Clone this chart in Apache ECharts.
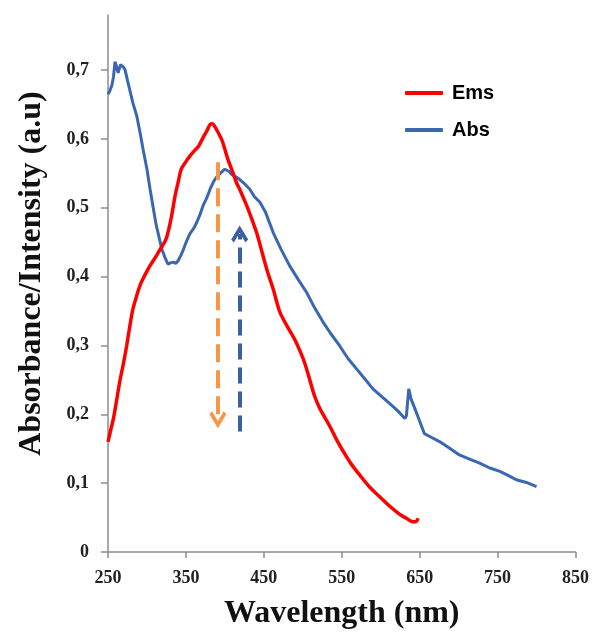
<!DOCTYPE html>
<html>
<head>
<meta charset="utf-8">
<script src="https://cdn.jsdelivr.net/npm/echarts@6/dist/echarts.min.js"></script>
<style>html,body{margin:0;padding:0;background:#fff;}#chart{width:592px;height:635px;}</style>
</head>
<body>
<div id="chart"></div>
<script>
// Absorbance (Abs) spectrum: wavelength (nm), value (a.u.)
const absWl = [250,252,255,257,259,261,263,266,268,270,272,275,278,282,287,291,295,300,304,308,312,316,319,323,327,330,334,337,340,344,347,351,355,360,364,368,372,377,381,385,389,395,400,405,409,414,419,425,432,438,445,452,462,472,483,494,505,515,526,536,547,558,569,580,590,601,612,622,631,633,636,639,645,650,656,666,676,688,701,714,727,740,753,764,774,787,800];
const absVal = [0.665,0.669,0.678,0.690,0.712,0.705,0.696,0.708,0.710,0.704,0.700,0.685,0.671,0.652,0.633,0.610,0.585,0.556,0.527,0.500,0.474,0.455,0.440,0.428,0.418,0.420,0.421,0.419,0.423,0.432,0.440,0.452,0.462,0.470,0.479,0.490,0.503,0.515,0.527,0.537,0.544,0.551,0.556,0.553,0.548,0.545,0.541,0.535,0.527,0.516,0.508,0.494,0.464,0.440,0.416,0.396,0.377,0.355,0.334,0.317,0.300,0.281,0.266,0.251,0.237,0.226,0.215,0.205,0.194,0.198,0.237,0.222,0.205,0.190,0.172,0.166,0.160,0.151,0.141,0.135,0.129,0.122,0.117,0.111,0.105,0.101,0.095];
// Emission (Ems) spectrum
const emsWl = [250,253,257,261,265,270,274,278,282,287,291,295,300,304,308,313,317,321,325,330,333,336,340,344,350,355,361,366,372,377,381,384,387,391,396,400,404,410,415,419,428,436,441,449,455,462,470,476,483,490,496,502,509,515,522,528,535,543,552,562,573,586,599,612,624,633,641,645,648];
const emsVal = [0.160,0.175,0.194,0.220,0.247,0.275,0.300,0.328,0.353,0.373,0.387,0.397,0.408,0.416,0.423,0.432,0.440,0.447,0.456,0.479,0.497,0.517,0.537,0.556,0.567,0.575,0.583,0.589,0.602,0.612,0.621,0.622,0.618,0.610,0.599,0.585,0.570,0.552,0.536,0.527,0.503,0.479,0.463,0.430,0.406,0.382,0.350,0.336,0.322,0.308,0.293,0.276,0.250,0.227,0.208,0.196,0.182,0.164,0.146,0.128,0.112,0.094,0.080,0.066,0.055,0.049,0.044,0.044,0.049];
// Dashed arrows: [wavelength, start value, end value]
const arrowDown = [391, 0.566, 0.192];
const arrowUp = [419, 0.175, 0.462];
// Tick labels
const xTicks = [250,350,450,550,650,750,850];
const yTicks = [0,0.1,0.2,0.3,0.4,0.5,0.6,0.7];
const seriesNames = ['Ems','Abs'];

const pair = (xs, ys) => xs.map((x, i) => [x, ys[i]]);
const chevron = 'path://M5,0 L10,7 L8.4,8.4 L5,3.6 L1.6,8.4 L0,7 Z';
const serif = '"Liberation Serif", "DejaVu Serif", serif';

const chart = echarts.init(document.getElementById('chart'), null, {renderer: 'canvas'});
chart.setOption({
  animation: false,
  backgroundColor: '#ffffff',
  grid: {left: 108, right: 16, top: 15, bottom: 81},
  legend: {
    orient: 'vertical', left: 405, top: 83, padding: 0,
    icon: 'roundRect', itemWidth: 38, itemHeight: 4, itemGap: 17,
    data: seriesNames,
    textStyle: {fontFamily: '"Liberation Sans", Arial, sans-serif', fontWeight: 'bold', fontSize: 20, color: '#000', lineHeight: 20, padding: [0, 0, 0, 4]}
  },
  xAxis: {
    type: 'value', min: 250, max: 850, interval: 50,
    name: 'Wavelength (nm)', nameLocation: 'middle', nameGap: 46,
    nameTextStyle: {fontFamily: serif, fontWeight: 'bold', fontSize: 32, color: '#111'},
    axisLine: {show: true, lineStyle: {color: '#8c8c8c', width: 1.5}},
    axisTick: {show: true, length: 6, customValues: xTicks, lineStyle: {color: '#8c8c8c', width: 1.5}},
    axisLabel: {customValues: xTicks, margin: 17, fontFamily: serif, fontWeight: 'bold', fontSize: 18, color: '#222'},
    splitLine: {show: false}
  },
  yAxis: {
    type: 'value', min: 0, max: 0.78, interval: 0.1,
    name: 'Absorbance/Intensity (a.u)', nameLocation: 'middle', nameGap: 60, nameRotate: 90,
    nameTextStyle: {fontFamily: serif, fontWeight: 'bold', fontSize: 32, color: '#111', padding: [0, 0, 0, 20]},
    axisLine: {show: true, lineStyle: {color: '#8c8c8c', width: 1.5}},
    axisTick: {show: true, length: 7, customValues: yTicks, lineStyle: {color: '#8c8c8c', width: 1.5}},
    axisLabel: {customValues: yTicks, margin: 19, fontFamily: serif, fontWeight: 'bold', fontSize: 18, color: '#222',
      formatter: v => v === 0 ? '0' : v.toFixed(1).replace('.', ',')},
    splitLine: {show: false}
  },
  series: [
    {
      name: 'Ems', type: 'line', data: pair(emsWl, emsVal), smooth: 0.35, symbol: 'none', showSymbol: false,
      itemStyle: {color: '#ff0000'}, lineStyle: {color: '#ff0000', width: 3.5}, z: 3,
      markLine: {
        silent: true, symbol: ['none', chevron], symbolSize: 17, label: {show: false},
        lineStyle: {color: '#f79646', type: [18, 8], width: 4},
        data: [[{coord: [arrowDown[0], arrowDown[1]]}, {coord: [arrowDown[0], arrowDown[2]]}]]
      }
    },
    {
      name: 'Abs', type: 'line', data: pair(absWl, absVal), smooth: false, symbol: 'none', showSymbol: false,
      itemStyle: {color: '#3a67b0'}, lineStyle: {color: '#3a67b0', width: 3}, z: 2,
      markLine: {
        silent: true, symbol: ['none', chevron], symbolSize: 17, label: {show: false},
        lineStyle: {color: '#3b5fa3', type: [16, 8], width: 4},
        data: [[{coord: [arrowUp[0], arrowUp[1]]}, {coord: [arrowUp[0], arrowUp[2]]}]]
      }
    }
  ]
});
</script>
</body>
</html>
